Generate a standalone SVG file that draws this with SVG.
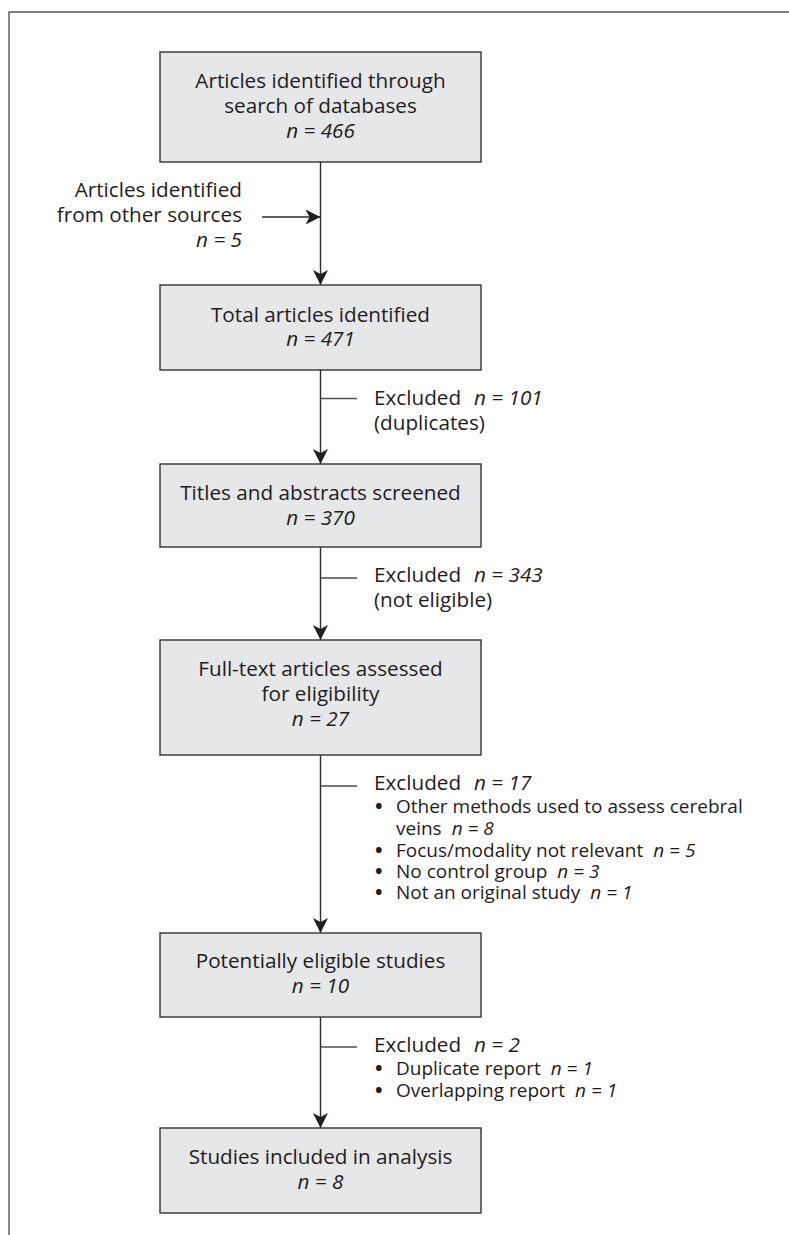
<svg xmlns="http://www.w3.org/2000/svg" width="789" height="1235" viewBox="0 0 789 1235">
<style>
.box{fill:#e6e7e8;stroke:#333;stroke-width:1.4}
.t{font-family:"Open Sans","Noto Sans",sans-serif;font-size:20.7px;fill:#1f1c1d}
.s{font-size:19px}
.c{text-anchor:middle}
.r{text-anchor:end}
.i{font-style:italic}
.b{font-size:20px;font-weight:bold}
.ln{stroke:#2b2b2b;stroke-width:1.4;fill:none}
.tk{stroke:#4d4d4d;stroke-width:1.3;fill:none}
.fr{stroke:#555;stroke-width:1.4;fill:none}
</style>
<defs>
<marker id="ah" viewBox="0 0 15 15" refX="15" refY="7.5" markerWidth="15" markerHeight="15" markerUnits="userSpaceOnUse" orient="auto">
<path d="M0,0 L15,7.5 L0,15 L4,7.5 Z" fill="#231f20"/>
</marker>
</defs>
<rect width="789" height="1235" fill="#fff"/>
<path class="fr" d="M9,1235 V12 H789"/>

<g id="connectors">
<line class="ln" x1="320.5" y1="162" x2="320.5" y2="285" marker-end="url(#ah)"/>
<line class="ln" x1="262" y1="217" x2="320.5" y2="217" marker-end="url(#ah)"/>
<line class="ln" x1="320.5" y1="370" x2="320.5" y2="464" marker-end="url(#ah)"/>
<line class="tk" x1="320.5" y1="398.5" x2="357" y2="398.5"/>
<line class="ln" x1="320.5" y1="547" x2="320.5" y2="640" marker-end="url(#ah)"/>
<line class="tk" x1="320.5" y1="578" x2="357" y2="578"/>
<line class="ln" x1="320.5" y1="755" x2="320.5" y2="933" marker-end="url(#ah)"/>
<line class="tk" x1="320.5" y1="786" x2="357" y2="786"/>
<line class="ln" x1="320.5" y1="1017" x2="320.5" y2="1128" marker-end="url(#ah)"/>
<line class="tk" x1="320.5" y1="1047" x2="357" y2="1047"/>
</g>

<g id="n1">
<rect class="box" x="160" y="52" width="321" height="110"/>
<text class="t c" x="320.5" y="88">Articles identified through<tspan x="320.5" y="113">search of databases</tspan><tspan class="i" x="320.5" y="138">n = 466</tspan></text>
</g>

<g id="other">
<text class="t r" x="242" y="197">Articles identified<tspan x="242" y="222">from other sources</tspan><tspan class="i" x="242" y="247">n = 5</tspan></text>
</g>

<g id="n2">
<rect class="box" x="160" y="285" width="321" height="85"/>
<text class="t c" x="320.5" y="321.5">Total articles identified<tspan class="i" x="320.5" y="346">n = 471</tspan></text>
</g>

<g id="ex1">
<text class="t" x="374" y="405">Excluded<tspan class="i" dx="13">n = 101</tspan><tspan x="374" y="430">(duplicates)</tspan></text>
</g>

<g id="n3">
<rect class="box" x="160" y="464" width="321" height="83"/>
<text class="t c" x="320.5" y="500">Titles and abstracts screened<tspan class="i" x="320.5" y="524.5">n = 370</tspan></text>
</g>

<g id="ex2">
<text class="t" x="374" y="582">Excluded<tspan class="i" dx="13">n = 343</tspan><tspan x="374" y="607">(not eligible)</tspan></text>
</g>

<g id="n4">
<rect class="box" x="160" y="640" width="321" height="115"/>
<text class="t c" x="320.5" y="676">Full-text articles assessed<tspan x="320.5" y="701">for eligibility</tspan><tspan class="i" x="320.5" y="726">n = 27</tspan></text>
</g>

<g id="ex3">
<text class="t" x="374" y="790">Excluded<tspan class="i" dx="13">n = 17</tspan><tspan class="b" x="375" y="813">•</tspan><tspan class="s" x="396" y="813">Other methods used to assess cerebral</tspan><tspan class="s" x="396" y="835">veins</tspan><tspan class="s i" dx="10">n = 8</tspan><tspan class="b" x="375" y="857">•</tspan><tspan class="s" x="396" y="857">Focus/modality not relevant</tspan><tspan class="s i" dx="10">n = 5</tspan><tspan class="b" x="375" y="878">•</tspan><tspan class="s" x="396" y="878">No control group</tspan><tspan class="s i" dx="10">n = 3</tspan><tspan class="b" x="375" y="899">•</tspan><tspan class="s" x="396" y="899">Not an original study</tspan><tspan class="s i" dx="10">n = 1</tspan></text>
</g>

<g id="n5">
<rect class="box" x="160" y="933" width="321" height="84"/>
<text class="t c" x="320.5" y="968">Potentially eligible studies<tspan class="i" x="320.5" y="993">n = 10</tspan></text>
</g>

<g id="ex4">
<text class="t" x="374" y="1052">Excluded<tspan class="i" dx="13">n = 2</tspan><tspan class="b" x="375" y="1075">•</tspan><tspan class="s" x="396" y="1075">Duplicate report</tspan><tspan class="s i" dx="10">n = 1</tspan><tspan class="b" x="375" y="1097">•</tspan><tspan class="s" x="396" y="1097">Overlapping report</tspan><tspan class="s i" dx="10">n = 1</tspan></text>
</g>

<g id="n6">
<rect class="box" x="160" y="1128" width="321" height="85"/>
<text class="t c" x="320.5" y="1164">Studies included in analysis<tspan class="i" x="320.5" y="1188.5">n = 8</tspan></text>
</g>
</svg>
